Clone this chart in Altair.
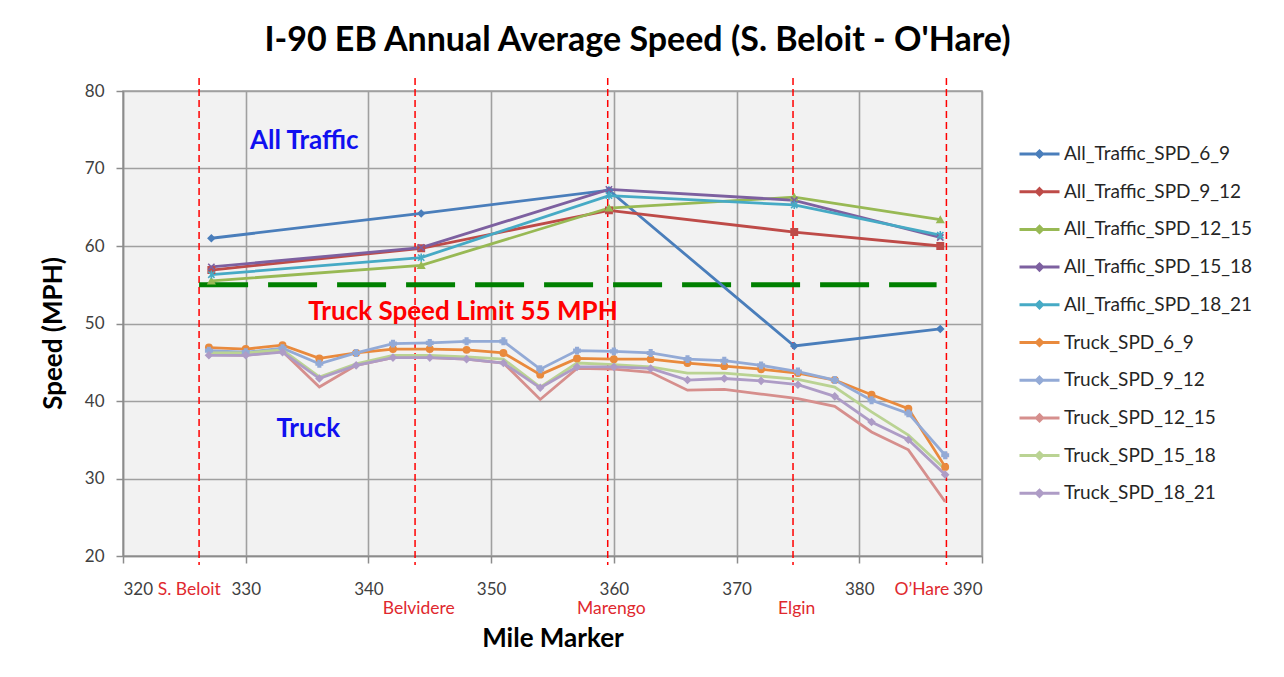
import altair as alt
import pandas as pd

# ---------------- data ----------------
series = [
    "All_Traffic_SPD_6_9", "All_Traffic_SPD_9_12", "All_Traffic_SPD_12_15",
    "All_Traffic_SPD_15_18", "All_Traffic_SPD_18_21",
    "Truck_SPD_6_9", "Truck_SPD_9_12", "Truck_SPD_12_15",
    "Truck_SPD_15_18", "Truck_SPD_18_21",
]

all_miles = [327.2, 344.3, 359.6, 374.7, 386.6]
all_6_9 = [61.0, 64.2, 67.2, 47.1, 49.3]
all_9_12 = [56.9, 59.7, 64.6, 61.8, 60.0]
all_12_15 = [55.5, 57.5, 64.9, 66.3, 63.4]
all_15_18 = [57.3, 59.8, 67.3, 65.9, 61.1]
all_18_21 = [56.3, 58.5, 66.5, 65.3, 61.4]

truck_miles = [327, 330, 333, 336, 339, 342, 345, 348, 351, 354, 357,
               360, 363, 366, 369, 372, 375, 378, 381, 384, 387]
truck_6_9 = [46.9, 46.7, 47.2, 45.5, 46.2, 46.7, 46.7, 46.6, 46.2, 43.4, 45.5,
             45.4, 45.4, 44.9, 44.5, 44.1, 43.6, 42.7, 40.8, 39.0, 31.5]
truck_9_12 = [46.5, 46.3, 46.8, 44.8, 46.2, 47.4, 47.5, 47.7, 47.7, 44.1, 46.5,
              46.4, 46.2, 45.4, 45.2, 44.6, 43.8, 42.7, 40.1, 38.4, 33.0]
truck_12_15 = [46.0, 45.9, 46.4, 41.8, 44.6, 45.6, 45.6, 45.4, 44.9, 40.2, 44.2,
               44.1, 43.7, 41.4, 41.5, 40.9, 40.3, 39.3, 36.0, 33.7, 27.0]
truck_15_18 = [46.2, 46.2, 46.6, 43.1, 44.8, 45.9, 45.9, 45.7, 45.4, 41.8, 44.9,
               44.7, 44.4, 43.6, 43.6, 43.2, 42.8, 41.8, 38.6, 35.6, 31.2]
truck_18_21 = [45.9, 45.9, 46.3, 42.9, 44.6, 45.6, 45.6, 45.4, 44.9, 41.7, 44.4,
               44.4, 44.2, 42.7, 42.9, 42.6, 42.1, 40.6, 37.3, 35.0, 30.5]

towns = ["S. Beloit", "Belvidere", "Marengo", "Elgin", "O\u2019Hare"]
town_miles = [326.2, 343.8, 359.5, 374.6, 387.1]
town_label_miles = [325.4, 344.1, 359.8, 374.9, 385.1]
town_label_row = [0, 1, 1, 1, 0]

limit_speed = 55
limit_span = [326.2, 386.3]

notes = ["All Traffic", "Truck", "Truck Speed Limit 55 MPH"]
note_miles = [330.35, 332.5, 335.1]
note_speeds = [72.5, 35.4, 50.4]
note_colors = ["#1010F0", "#1010F0", "#FF0000"]

x_ticks = [320, 330, 340, 350, 360, 370, 380, 390]
y_ticks = [20, 30, 40, 50, 60, 70, 80]

# ---------------- styles ----------------
colors = ["#4A7EBB", "#BE4B48", "#98B954", "#7D60A0", "#46AAC5",
          "#E98A3D", "#93AAD6", "#D68F8D", "#BAD393", "#AE9CC6"]
shapes = ["diamond", "square", "triangle-up", "M-1,-1L1,1M-1,1L1,-1",
          "M-1,-1L1,1M-1,1L1,-1M0,-1.3L0,1.3", "circle", "cross", None, None, "diamond"]
sizes = [40, 40, 45, 40, 50, 80, 45, 0, 0, 60]
FONT = "Lato"

# ---------------- tables ----------------
all_vals = [all_6_9, all_9_12, all_12_15, all_15_18, all_18_21]
truck_vals = [truck_6_9, truck_9_12, truck_12_15, truck_15_18, truck_18_21]
rows = []
for name, vals in zip(series[:5], all_vals):
    for m, v in zip(all_miles, vals):
        rows.append({"series": name, "mile": m, "speed": v})
for name, vals in zip(series[5:], truck_vals):
    for m, v in zip(truck_miles, vals):
        rows.append({"series": name, "mile": m, "speed": v})
df = pd.DataFrame(rows)

marker_series = [s for s, sh in zip(series, shapes) if sh]
marker_shapes = [sh for sh in shapes if sh]
marker_sizes = [sz for sz, sh in zip(sizes, shapes) if sh]
df_pts = df[df["series"].isin(marker_series)]

towns_df = pd.DataFrame({"town": towns, "mile": town_miles,
                         "label_mile": town_label_miles, "row": town_label_row})
limit_df = pd.DataFrame({"mile": limit_span, "speed": [limit_speed, limit_speed]})
notes_df = pd.DataFrame({"text": notes, "mile": note_miles, "speed": note_speeds,
                         "color": note_colors})

W, H = 859, 465
x_scale = alt.Scale(domain=[320, 390], nice=False, zero=False)
y_scale = alt.Scale(domain=[20, 80], nice=False, zero=False)

x_axis = alt.Axis(values=x_ticks, title="Mile Marker", grid=True, tickSize=7,
                  labelPadding=18, titleY=90, titleBaseline="alphabetic")
y_axis = alt.Axis(values=y_ticks, title="Speed (MPH)", grid=True, tickSize=7,
                  labelPadding=12, titleX=-62, titleY=242, titleBaseline="alphabetic")


def X(field="mile"):
    return alt.X(f"{field}:Q", scale=x_scale, axis=x_axis)


def Y(field="speed"):
    return alt.Y(f"{field}:Q", scale=y_scale, axis=y_axis)


legend_path = "M-1,0L1,0M0,-0.15L0.15,0L0,0.15L-0.15,0Z"

lines = alt.Chart(df).mark_line(strokeWidth=2.8).encode(
    x=X(), y=Y(),
    color=alt.Color("series:N", scale=alt.Scale(domain=series, range=colors),
                    legend=alt.Legend(orient="none", legendX=895, legendY=48, title=None,
                                      symbolType=legend_path, symbolSize=1600,
                                      symbolStrokeWidth=3, labelFont=FONT,
                                      labelFontSize=19, labelColor="#262626",
                                      clipHeight=30, rowPadding=7.7, labelOffset=3,
                                      padding=0, labelLimit=300)),
    order=alt.Order("mile:Q"),
)

points = alt.Chart(df_pts).mark_point(opacity=1, strokeWidth=1.6).encode(
    x=X(), y=Y(),
    fill=alt.Fill("series:N", scale=alt.Scale(domain=series, range=colors), legend=None),
    stroke=alt.Stroke("series:N", scale=alt.Scale(domain=series, range=colors), legend=None),
    shape=alt.Shape("series:N", scale=alt.Scale(domain=marker_series, range=marker_shapes),
                    legend=None),
    size=alt.Size("series:N", scale=alt.Scale(domain=marker_series, range=marker_sizes),
                  legend=None),
)

town_rules = alt.Chart(towns_df).mark_rule(color="#FF0000", strokeWidth=1.5,
                                           strokeDash=[7, 4]).encode(
    x=X(),
    y=alt.value(-13),
    y2=alt.value(H + 9),
)

row_y = [H + 39, H + 58]
town_labels = [
    alt.Chart(towns_df).transform_filter(alt.datum.row == r).mark_text(
        font=FONT, fontSize=17.5, color="#E0282E", baseline="alphabetic", align="center"
    ).encode(
        x=X("label_mile"),
        y=alt.value(row_y[r]),
        text="town:N",
    )
    for r in (0, 1)
]

limit_line = alt.Chart(limit_df).mark_line(color="#008000", strokeWidth=5,
                                           strokeDash=[49, 20]).encode(
    x=X(), y=Y(),
)

note_text = alt.Chart(notes_df).mark_text(font=FONT, fontSize=26, fontWeight="bold",
                                          align="left", baseline="alphabetic").encode(
    x=X(), y=Y(),
    text="text:N",
    color=alt.Color("color:N", scale=None),
)

chart = alt.layer(
    town_rules, limit_line, lines, points, note_text, *town_labels
).properties(
    width=W, height=H,
    background="white",
    autosize=alt.AutoSizeParams(type="none"),
    padding={"left": 115, "top": 83, "right": 1268 - 115 - W, "bottom": 661 - 83 - H},
    title=alt.TitleParams(
        text="I-90 EB Annual Average Speed (S. Beloit - O'Hare)",
        font=FONT, fontSize=34, fontWeight="bold", color="#000000",
        anchor="middle", dx=85, offset=19,
    ),
).configure_view(
    fill="#F2F2F2", stroke="#A0A0A0", strokeWidth=1.5,
).configure_axis(
    labelFont=FONT, labelFontSize=17, labelColor="#404040",
    titleFont=FONT, titleFontSize=26, titleFontWeight="bold", titleColor="#000000",
    gridColor="#A0A0A0", gridWidth=1.6, domainColor="#8C8C8C", tickColor="#8C8C8C",
    domainWidth=1.5, tickWidth=1.5,
)

chart.save("out.html", embed_options={"renderer": "svg", "actions": False})
